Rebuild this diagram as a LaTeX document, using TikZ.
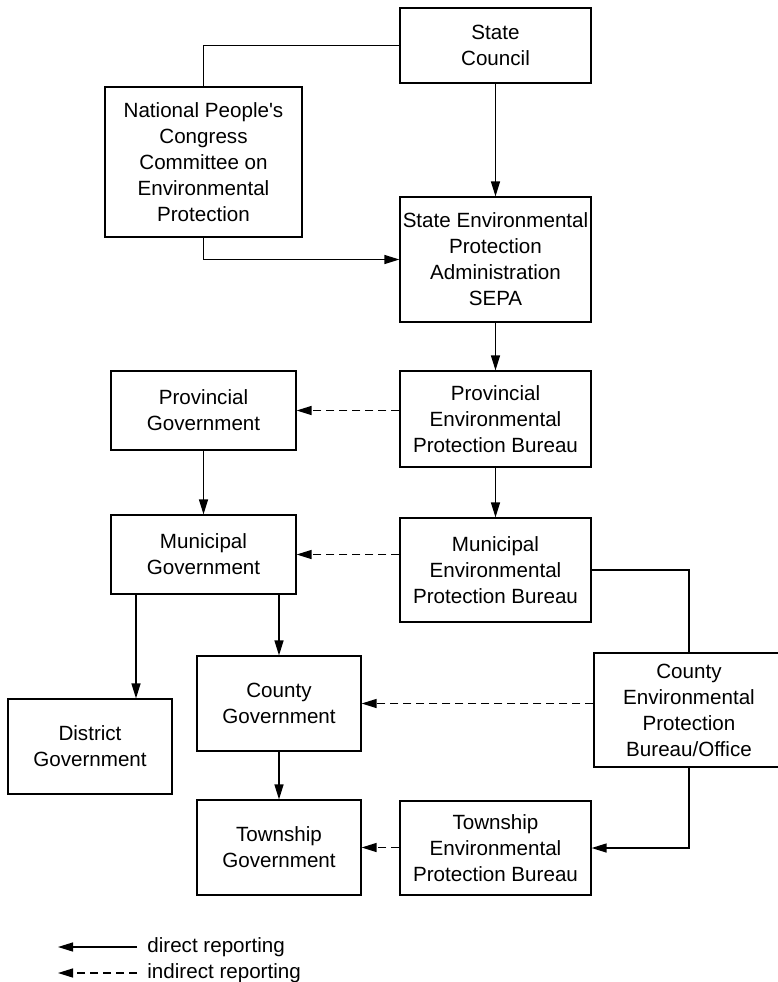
\documentclass[tikz,border=0pt]{standalone}
\usepackage{fontspec}
\setmainfont{Liberation Sans}
\usetikzlibrary{arrows.meta}

\begin{document}
\begin{tikzpicture}[x=0.5pt,y=-0.5pt,
  font=\fontsize{10.3}{13}\selectfont,
  box/.style={draw,line width=0.6pt,align=center,inner sep=0pt},
  link/.style={draw,line width=0.65pt},
  direct/.style={link,-{Triangle[length=7.5pt,width=4.5pt]}},
  indirect/.style={direct,dash pattern=on 4pt off 2.5pt}]
  \useasboundingbox (0,0) rectangle (778,982);
  % Upper part of the Figure
  \node[box,minimum width=95.5pt,minimum height=37.5pt] (council)   at (495.5,45.5)  {State\\Council};
  \node[box,minimum width=98.5pt,minimum height=75pt]   (npc)       at (203.5,162)   {National People\textquotesingle s\\Congress\\Committee on\\Environmental\\Protection};
  \node[box,minimum width=95.5pt,minimum height=62.5pt] (sepa)      at (495.5,259.5) {State Environmental\\Protection\\Administration\\SEPA};
  \draw[link]   (council.west) -| (npc.north);
  \draw[direct] (npc.south) |- (sepa.west);
  \draw[direct] (council) -- (sepa);
  % Middle part of the Figure
  \node[box,minimum width=92.5pt,minimum height=39.5pt] (provgov)   at (203.5,410.5) {Provincial\\Government};
  \node[box,minimum width=95.5pt,minimum height=48pt]   (provepb)   at (495.5,419)   {Provincial\\Environmental\\Protection Bureau};
  \node[box,minimum width=92.5pt,minimum height=39.5pt] (mungov)    at (203.5,554.5) {Municipal\\Government};
  \node[box,minimum width=95.5pt,minimum height=52pt]   (munepb)    at (495.5,570)   {Municipal\\Environmental\\Protection Bureau};
  \draw[direct]   (sepa) -- (provepb);
  \draw[direct]   (provepb) -- (munepb);
  \draw[direct]   (provgov) -- (mungov);
  \draw[indirect] (provgov.east -| provepb.west) -- (provgov.east);
  \draw[indirect] (mungov.east -| munepb.west) -- (mungov.east);
  % Lower part of the Figure
  \node[box,minimum width=82pt,minimum height=47.5pt]   (countygov) at (279,703.5)   {County\\Government};
  \node[box,minimum width=95pt,minimum height=57pt]     (countyepb) at (689,710)     {County\\Environmental\\Protection\\Bureau/Office};
  \node[box,minimum width=82pt,minimum height=47.5pt]   (district)  at (90,746.5)    {District\\Government};
  \node[box,minimum width=82pt,minimum height=47.5pt]   (towngov)   at (279,847.5)   {Township\\Government};
  \node[box,minimum width=95.5pt,minimum height=47pt]   (townepb)   at (495.5,848)   {Township\\Environmental\\Protection Bureau};
  \coordinate (mundistrict) at ([xshift=-33.75pt]mungov.south);
  \draw[direct]   (mundistrict) -- (mundistrict |- district.north);
  \draw[direct]   (countygov.north |- mungov.south) -- (countygov.north);
  \draw[direct]   (countygov) -- (towngov);
  \draw[link]     (munepb.east) -| (countyepb.north);
  \draw[direct]   (countyepb.south) |- (townepb.east);
  \draw[indirect] (countygov.east -| countyepb.west) -- (countygov.east);
  \draw[indirect] (towngov.east -| townepb.west) -- (towngov.east);
  % Legend
  \node[anchor=west,inner xsep=5pt,inner ysep=0pt] (ldirect)   at (137,947) {direct reporting};
  \node[anchor=west,inner xsep=5pt,inner ysep=0pt] (lindirect) at (137,973) {indirect reporting};
  \coordinate (ldirectend)   at (58,947);
  \coordinate (lindirectend) at (58,973);
  \draw[direct]   (ldirect.west) -- (ldirectend);
  \draw[indirect] (lindirect.west) -- (lindirectend);
\end{tikzpicture}
\end{document}
